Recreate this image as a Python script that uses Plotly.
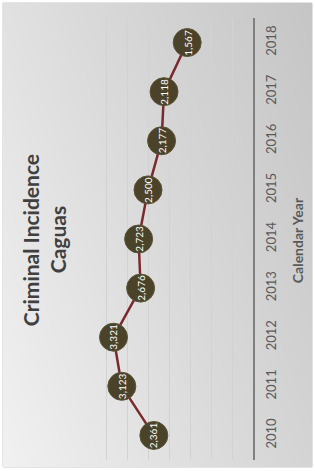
import numpy as np
import plotly.graph_objects as go

years = [2010, 2011, 2012, 2013, 2014, 2015, 2016, 2017, 2018]
incidents = [2361, 3123, 3321, 2676, 2723, 2500, 2177, 2118, 1567]
year_labels = [str(y) for y in years]
title_line1 = "Criminal Incidence"
title_line2 = "Caguas"
axis_title = "Calendar Year"

W, H = 315, 471
FONT = "Lato"

fig = go.Figure()

# background gradient (lighter bottom-left, darker top-right) on base subplot
gx = np.linspace(0, 1, 40)
gy = np.linspace(0, 1, 40)
GX, GY = np.meshgrid(gx, gy)
Z = 0.65 * GX + 0.35 * GY
fig.add_trace(go.Heatmap(
    x=gx, y=gy, z=Z, zsmooth="best", showscale=False, hoverinfo="skip",
    colorscale=[[0, "#f1f1f1"], [0.5, "#dadada"], [1, "#c5c5c5"]],
    xaxis="x", yaxis="y",
))

# line + markers on top subplot
fig.add_trace(go.Scatter(
    x=incidents, y=years, mode="lines+markers",
    line=dict(color="#7a2a2e", width=2.5),
    marker=dict(size=28, color="#4a4329", line=dict(color="#5c5438", width=1)),
    hoverinfo="skip", xaxis="x2", yaxis="y2",
))

annotations = []
for v, yr in zip(incidents, years):
    annotations.append(dict(
        x=v, y=yr, xref="x2", yref="y2", text=f"{v:,}", showarrow=False,
        textangle=-90, font=dict(family=FONT, size=10, color="white"),
    ))

annotations.append(dict(
    x=30 / W, y=0.49, xref="paper", yref="paper", text=f"<b>{title_line1}</b>",
    showarrow=False, textangle=-90, xanchor="center", yanchor="middle",
    font=dict(family=FONT, size=21, color="#404040"),
))
annotations.append(dict(
    x=57 / W, y=0.49, xref="paper", yref="paper", text=f"<b>{title_line2}</b>",
    showarrow=False, textangle=-90, xanchor="center", yanchor="middle",
    font=dict(family=FONT, size=21, color="#404040"),
))
annotations.append(dict(
    x=297 / W, y=0.49, xref="paper", yref="paper", text=f"<b>{axis_title}</b>",
    showarrow=False, textangle=-90, xanchor="center", yanchor="middle",
    font=dict(family=FONT, size=14, color="#595959"),
))

fig.update_layout(
    width=W, height=H,
    margin=dict(l=0, r=0, t=0, b=0),
    paper_bgcolor="white",
    plot_bgcolor="rgba(0,0,0,0)",
    showlegend=False,
    annotations=annotations,
    xaxis=dict(domain=[3 / W, 312 / W], range=[0, 1], visible=False, fixedrange=True),
    yaxis=dict(domain=[4 / H, 468 / H], range=[0, 1], visible=False, fixedrange=True, anchor="x"),
    xaxis2=dict(
        domain=[85 / W, 253 / W], range=[4000, 0], dtick=500, tick0=0,
        showgrid=True, gridcolor="#d2d2d2", gridwidth=1,
        showticklabels=False, zeroline=False, showline=False, ticks="",
        anchor="y2",
    ),
    yaxis2=dict(
        domain=[(471 - 460) / H, (471 - 18) / H], range=[2009.5, 2018.5],
        tickvals=years, ticktext=year_labels, tickangle=-90,
        side="right", showline=True, linecolor="#808080", linewidth=1.5,
        showgrid=False, zeroline=False, ticks="", ticklabelstandoff=6,
        tickfont=dict(family=FONT, size=13, color="#595959"),
        anchor="x2",
    ),
    shapes=[dict(type="rect", xref="paper", yref="paper", x0=3 / W, x1=312 / W,
                 y0=4 / H, y1=468 / H, line=dict(color="#c8c8c8", width=1), layer="below")],
)

fig.write_html(
    "out.html",
    config={"displayModeBar": False, "staticPlot": True},
    post_script="document.body.style.margin='0';document.body.style.overflow='hidden';",
)
